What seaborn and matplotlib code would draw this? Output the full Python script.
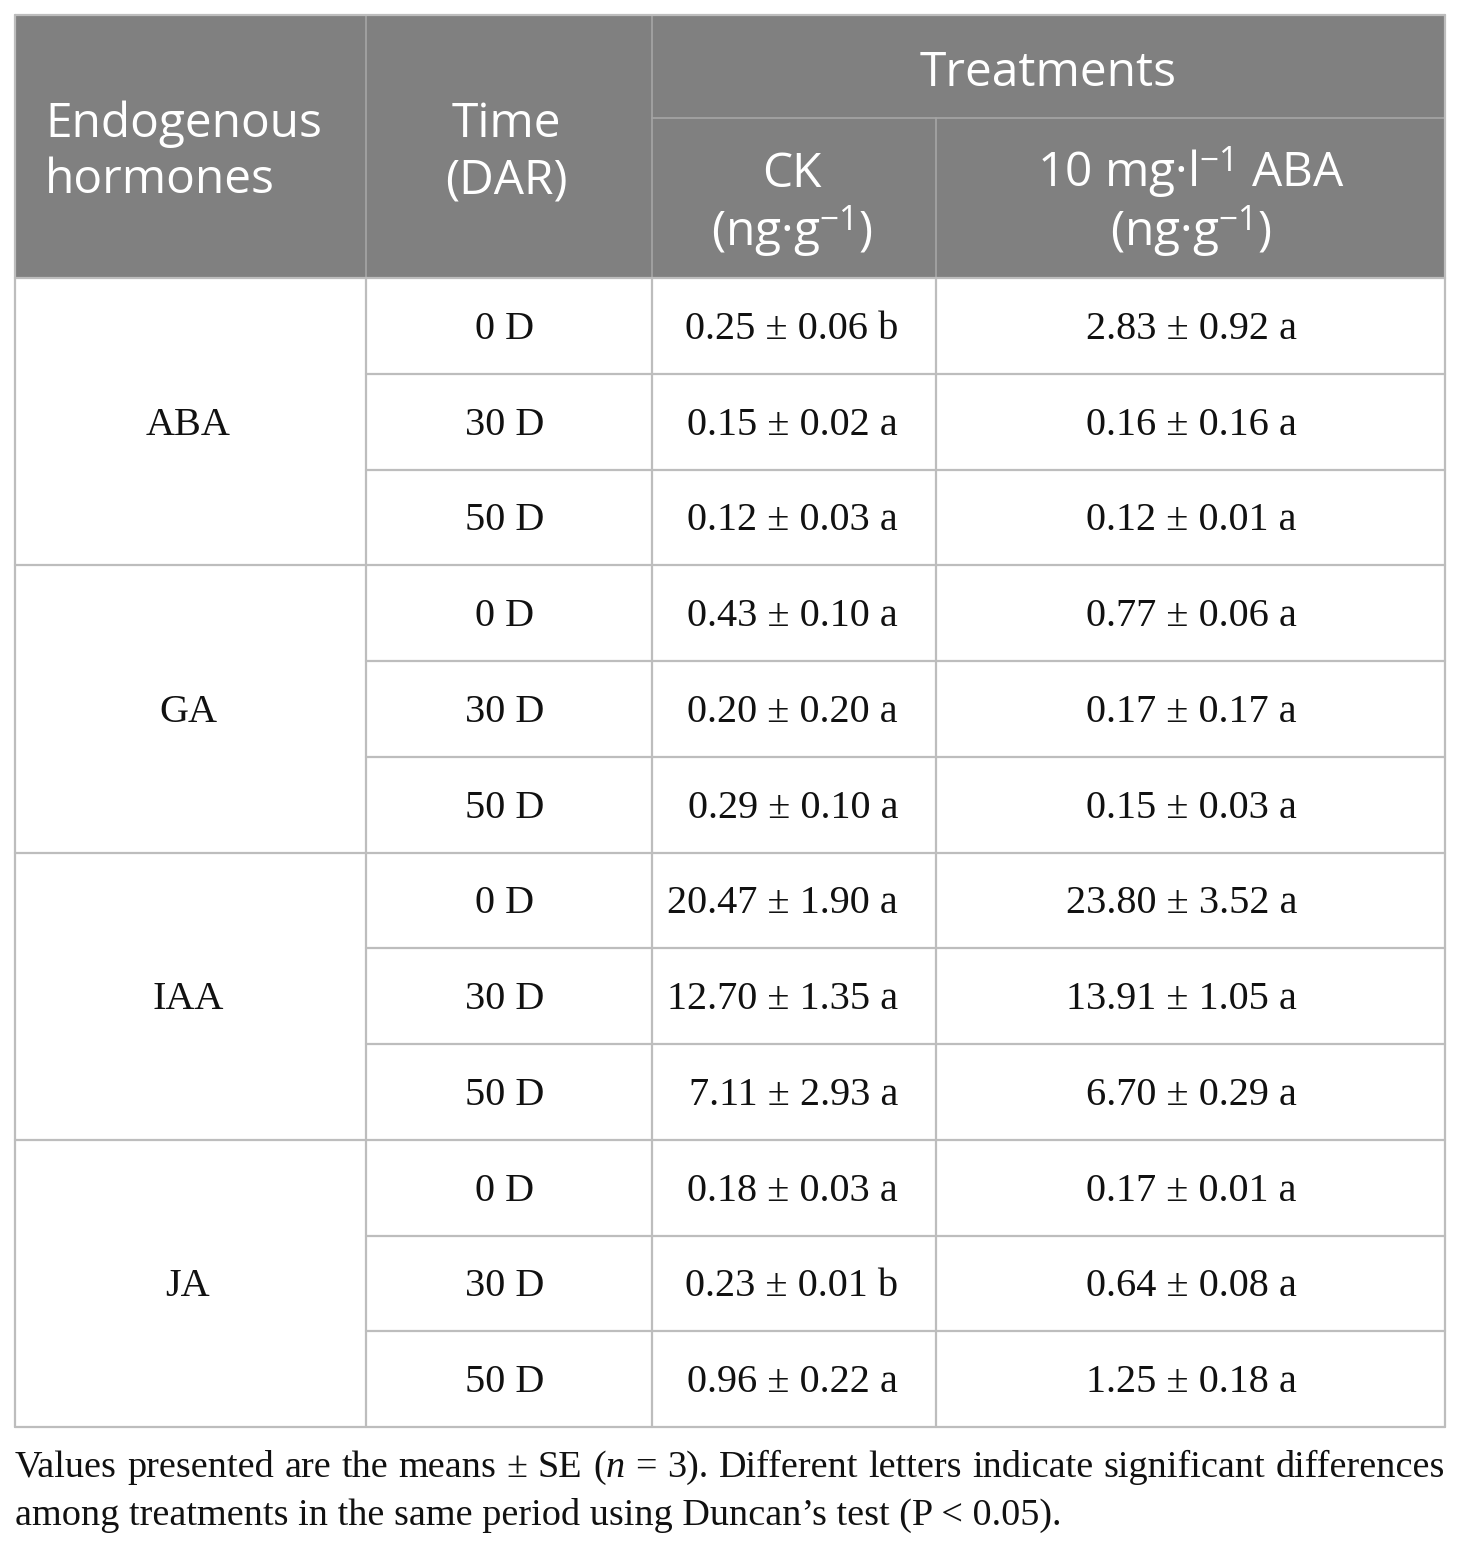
import matplotlib
matplotlib.use("Agg")
import matplotlib.pyplot as plt
import seaborn as sns

# table data
hormones = ['ABA', 'GA', 'IAA', 'JA']
times = ['0 D', '30 D', '50 D']
ck_mean = [0.25, 0.15, 0.12, 0.43, 0.20, 0.29, 20.47, 12.70, 7.11, 0.18, 0.23, 0.96]
ck_se = [0.06, 0.02, 0.03, 0.10, 0.20, 0.10, 1.90, 1.35, 2.93, 0.03, 0.01, 0.22]
ck_letter = ['b', 'a', 'a', 'a', 'a', 'a', 'a', 'a', 'a', 'a', 'b', 'a']
aba_mean = [2.83, 0.16, 0.12, 0.77, 0.17, 0.15, 23.80, 13.91, 6.70, 0.17, 0.64, 1.25]
aba_se = [0.92, 0.16, 0.01, 0.06, 0.17, 0.03, 3.52, 1.05, 0.29, 0.01, 0.08, 0.18]
aba_letter = ['a'] * 12

footnote_1 = "Values presented are the means ± SE ($n$ = 3). Different letters indicate significant differences"
footnote_2 = "among treatments in the same period using Duncan’s test (P < 0.05)."

sns.set_theme(style="white")
plt.rcParams['mathtext.fontset'] = 'custom'
plt.rcParams['mathtext.rm'] = 'Open Sans'
plt.rcParams['mathtext.it'] = 'Liberation Serif:italic'

HEAD_BG = '#808080'
LINE = '#bdbdbd'
HEAD_LINE = '#a6a6a6'
INK = '#111111'
sans = ['Open Sans', 'DejaVu Sans']
serif = ['Liberation Serif', 'DejaVu Serif']

fig = plt.figure(figsize=(14.6, 15.49), dpi=100)
ax = fig.add_axes([0, 0, 1, 1])
ax.set_xlim(0, 1460)
ax.set_ylim(1549, 0)
ax.axis('off')

cols = [15, 366, 652, 936, 1445]
top, mid, hbot, bot = 15, 118, 278, 1427
n_rows = len(hormones) * len(times)
row_h = (bot - hbot) / n_rows

# header block
ax.fill_between([cols[0], cols[-1]], top, hbot, color=HEAD_BG, lw=0)
ax.plot([cols[1], cols[1]], [top, hbot], color=HEAD_LINE, lw=1.2)
ax.plot([cols[2], cols[2]], [top, hbot], color=HEAD_LINE, lw=1.2)
ax.plot([cols[3], cols[3]], [mid, hbot], color=HEAD_LINE, lw=1.2)
ax.plot([cols[2], cols[-1]], [mid, mid], color=HEAD_LINE, lw=1.2)

hs = 34.5
hkw = dict(fontsize=hs, family=sans, color='white', va='baseline')
ax.text(cols[0] + 30, 137, 'Endogenous', ha='left', **hkw)
ax.text(cols[0] + 30, 193, 'hormones', ha='left', **hkw)
tc = (cols[1] + cols[2]) / 2 - 3
ax.text(tc, 137, 'Time', ha='center', **hkw)
ax.text(tc, 193, '(DAR)', ha='center', **hkw)
ax.text((cols[2] + cols[4]) / 2, 86, 'Treatments', ha='center', **hkw)
ckc = (cols[2] + cols[3]) / 2 - 2
abc = (cols[3] + cols[4]) / 2
ax.text(ckc, 187, 'CK', ha='center', **hkw)
ax.text(ckc, 246, r'(ng·g$^{-1}$)', ha='center', **hkw)
ax.text(abc, 187, r'10 mg·l$^{-1}$ ABA', ha='center', **hkw)
ax.text(abc, 246, r'(ng·g$^{-1}$)', ha='center', **hkw)

# body grid
for i in range(n_rows + 1):
    y = hbot + i * row_h
    x0 = cols[0] if i % len(times) == 0 else cols[1]
    ax.plot([x0, cols[-1]], [y, y], color=LINE, lw=1.6)
for x in cols:
    ax.plot([x, x], [hbot, bot], color=LINE, lw=1.6)
ax.plot([cols[0], cols[0]], [top, hbot], color=LINE, lw=1.6)
ax.plot([cols[-1], cols[-1]], [top, hbot], color=LINE, lw=1.6)
ax.plot([cols[0], cols[-1]], [top, top], color=LINE, lw=1.6)

bs = 29
bkw = dict(fontsize=bs, family=serif, va='baseline', color=INK)
for g, h in enumerate(hormones):
    yc = hbot + (g * len(times) + len(times) / 2) * row_h
    ax.text(188, yc + 13, h, ha='center', **bkw)
for i in range(n_rows):
    yb = hbot + (i + 0.5) * row_h + 13
    ax.text(505, yb, times[i % len(times)], ha='center', **bkw)
    ax.text(898, yb, f'{ck_mean[i]:.2f} ± {ck_se[i]:.2f} {ck_letter[i]}', ha='right', **bkw)
    ax.text(1297, yb, f'{aba_mean[i]:.2f} ± {aba_se[i]:.2f} {aba_letter[i]}', ha='right', **bkw)

# footnote, first line justified
fs = 27.5
fkw = dict(fontsize=fs, family=serif, va='baseline', color=INK)
renderer = fig.canvas.get_renderer()
items = [ax.text(0, 1477, w, ha='left', **fkw) for w in footnote_1.split(' ')]
widths = [t.get_window_extent(renderer).width for t in items]
gap = (cols[-1] - cols[0] - sum(widths)) / (len(items) - 1)
x = cols[0]
for t, w in zip(items, widths):
    t.set_x(x)
    x += w + gap
ax.text(cols[0], 1525, footnote_2, ha='left', **fkw)

fig.savefig('out.png', dpi=100, facecolor='white')
